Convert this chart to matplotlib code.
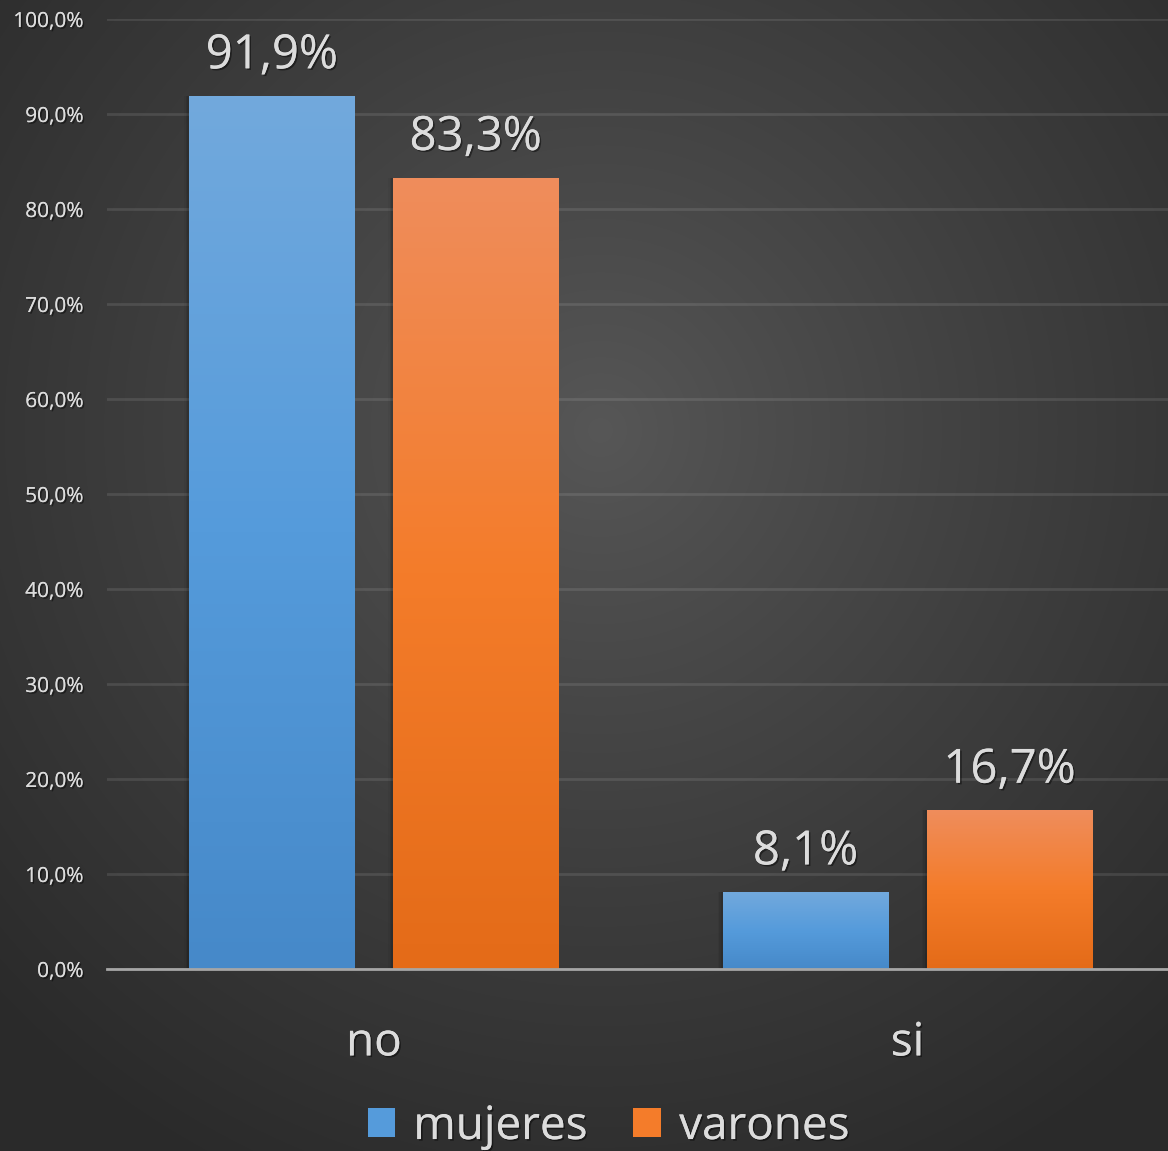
import numpy as np
import matplotlib.pyplot as plt
import matplotlib.patheffects as pe
from matplotlib.colors import LinearSegmentedColormap
from matplotlib.patches import Patch
from matplotlib.ticker import FuncFormatter

plt.rcParams['font.family'] = ['Open Sans', 'DejaVu Sans']

categories = ['no', 'si']
mujeres = [91.9, 8.1]
varones = [83.3, 16.7]
series_names = ['mujeres', 'varones']

text_color = '#dcdcdc'
blue_grad = ['#4689c9', '#559bdb', '#72a9dd']     # bottom -> top
orange_grad = ['#e46b18', '#f47c2a', '#ef8d5c']
shadow = [pe.withSimplePatchShadow(offset=(1.2, -1.2), shadow_rgbFace='black', alpha=0.45), pe.Normal()]

fig = plt.figure(figsize=(11.68, 11.51), dpi=100)

# radial gradient background
bg_ax = fig.add_axes([0, 0, 1, 1], zorder=-10)
yy, xx = np.mgrid[0:1151, 0:1168]
r = np.sqrt(((xx - 600) / 820.0) ** 2 + ((yy - 430) / 820.0) ** 2)
r = np.clip(r, 0, 1)
shade = 0x57 - (0x57 - 0x2b) * r ** 0.9
bg = np.dstack([shade, shade, shade]) / 255.0
bg_ax.imshow(bg, aspect='auto', extent=[0, 1, 0, 1])
bg_ax.axis('off')

# plot area runs slightly past the right edge of the figure
ax = fig.add_axes([107 / 1168, 1 - 969 / 1151, 1067.5 / 1168, (969 - 19) / 1151])
ax.set_facecolor('none')

x = np.arange(len(categories))
width = 0.311
offset = 0.191

bars_m = ax.bar(x - offset, mujeres, width, color='none', zorder=3)
bars_v = ax.bar(x + offset, varones, width, color='none', zorder=3)

grad = np.linspace(0, 1, 256).reshape(-1, 1)
for bars, cols in [(bars_m, blue_grad), (bars_v, orange_grad)]:
    cmap = LinearSegmentedColormap.from_list('g', cols)
    for b in bars:
        x0, y0 = b.get_x(), b.get_y()
        w, h = b.get_width(), b.get_height()
        # soft shadow along the left edge of each bar
        for k, a in enumerate([0.10, 0.07, 0.04]):
            ax.add_patch(plt.Rectangle((x0 - 0.003 * (k + 1), y0), w, h, color='black',
                                       alpha=a, zorder=2, lw=0))
        im = ax.imshow(grad, cmap=cmap, origin='lower', aspect='auto',
                       extent=[x0, x0 + w, y0, y0 + h], zorder=3)
        im.set_clip_path(b)
        ax.annotate(f'{h:.1f}%'.replace('.', ','), (x0 + w / 2, h), xytext=(0, 12),
                    textcoords='offset points', ha='center', va='bottom',
                    fontsize=34, color=text_color, path_effects=shadow)

ax.set_xlim(-0.5, 1.5)
ax.set_ylim(0, 100)
ax.set_yticks(np.arange(0, 101, 10))
ax.yaxis.set_major_formatter(FuncFormatter(lambda v, p: f'{v:.1f}%'.replace('.', ',')))
ax.set_xticks(x)
ax.set_xticklabels(categories)
ax.tick_params(axis='y', length=0, pad=17, labelsize=15, labelcolor=text_color)
ax.tick_params(axis='x', length=0, pad=37, labelsize=33, labelcolor=text_color)
for lab in ax.get_xticklabels() + ax.get_yticklabels():
    lab.set_path_effects(shadow)

ax.yaxis.grid(True, color='#ffffff', alpha=0.1, linewidth=2, zorder=0)
ax.set_axisbelow(True)
for s in ['top', 'right', 'left']:
    ax.spines[s].set_visible(False)
ax.spines['bottom'].set_color('#a6a6a6')
ax.spines['bottom'].set_linewidth(2)
ax.spines['bottom'].set_zorder(4)

handles = [Patch(facecolor=blue_grad[1]), Patch(facecolor=orange_grad[1])]
leg = fig.legend(handles, series_names, loc='lower center', bbox_to_anchor=(0.521, -0.035),
                 ncol=2, frameon=False, fontsize=33, handlelength=0.6, handleheight=0.6,
                 handletextpad=0.4, columnspacing=1.0)
for t in leg.get_texts():
    t.set_color(text_color)
    t.set_path_effects(shadow)

fig.savefig('out.png', dpi=100)
